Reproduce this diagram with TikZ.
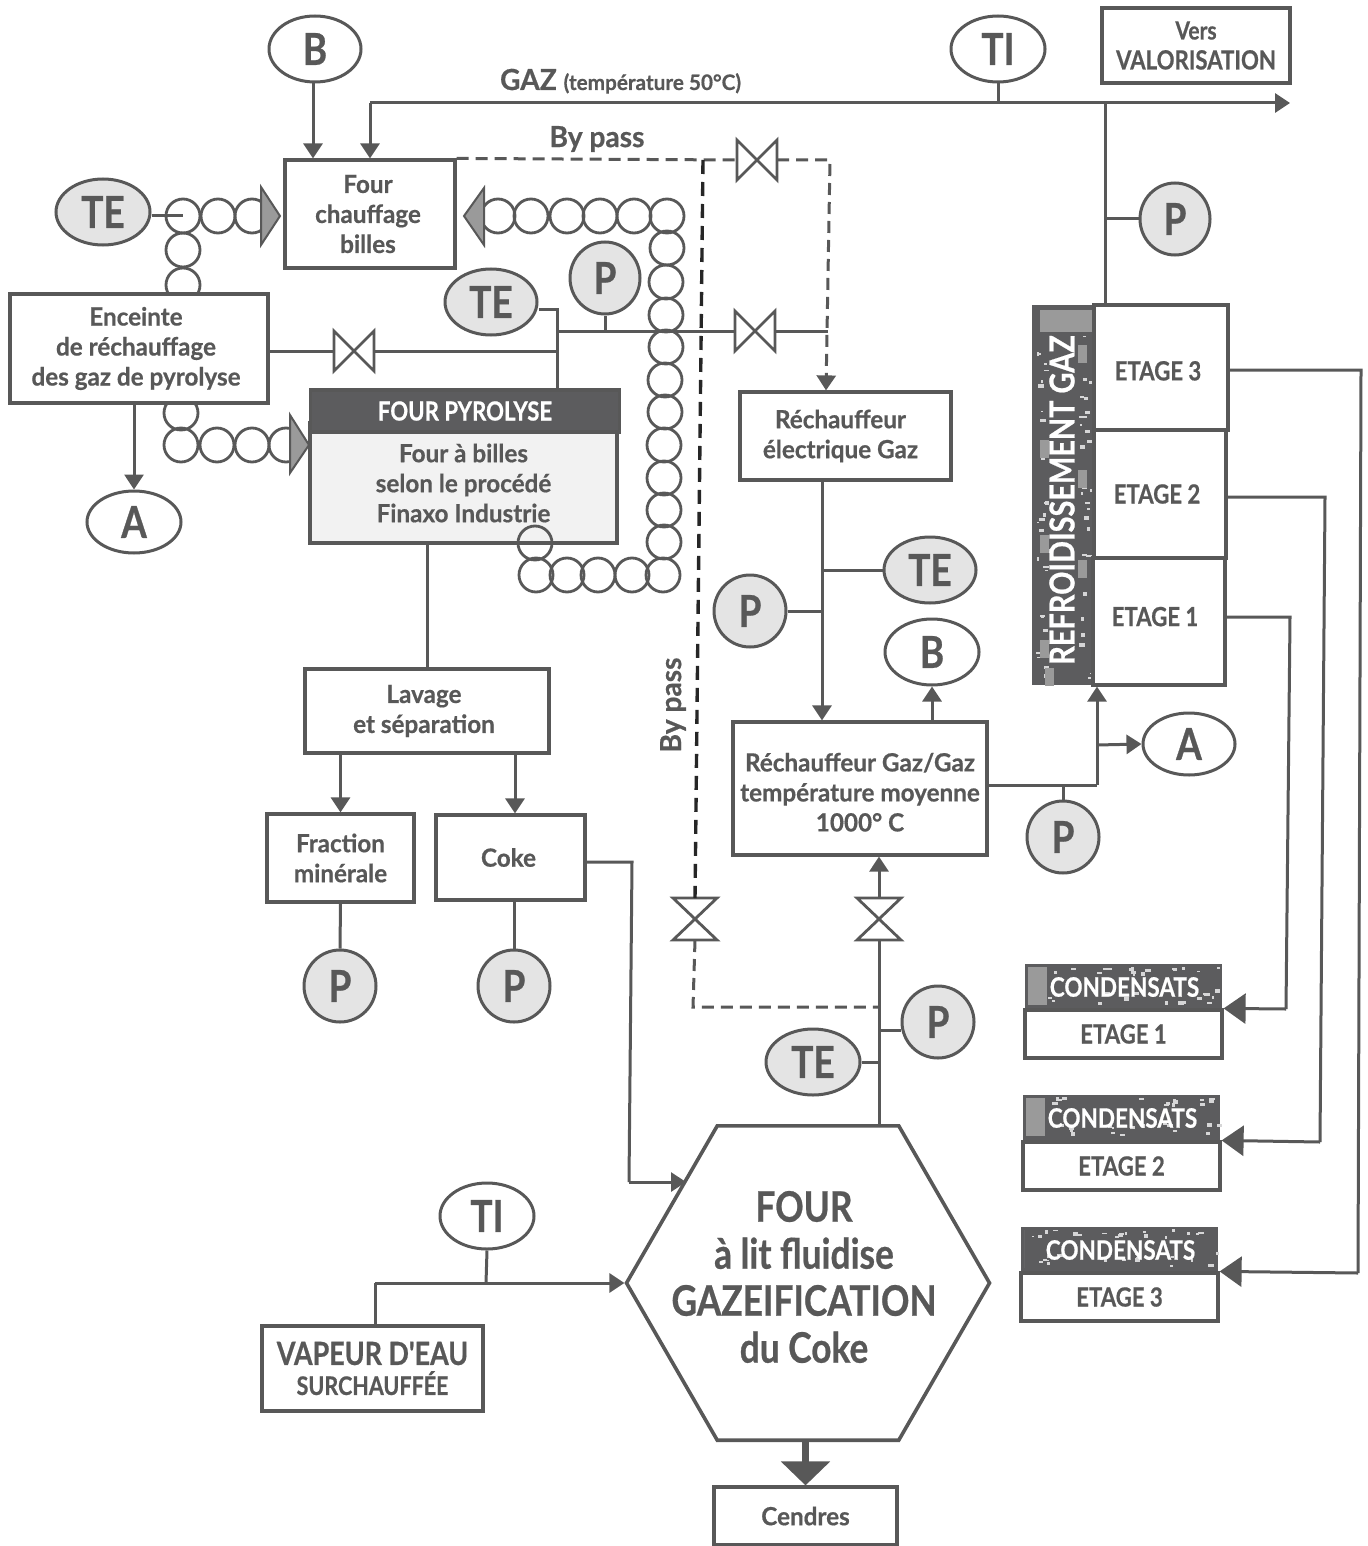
\documentclass[tikz,border=0pt]{standalone}
\usepackage{fontspec}
\setmainfont[FakeStretch=0.97,BoldFeatures={FakeBold=0.6}]{Lato}
\newfontfamily\capsfont[FakeStretch=0.84,BoldFeatures={FakeBold=0.6}]{Lato}
\usetikzlibrary{arrows.meta,shapes.geometric}
\definecolor{inkgray}{HTML}{585858}
\definecolor{bandgray}{HTML}{5c5c5e}
\definecolor{blotgray}{HTML}{9a9a9a}
\definecolor{instrgray}{HTML}{e4e4e4}
\tikzset{
  pipe/.style={draw=inkgray, line width=1.5pt},
  bypass/.style={draw=inkgray, line width=1.5pt, dash pattern=on 6pt off 3.5pt},
  blackpass/.style={draw=black!85, line width=1.7pt, dash pattern=on 7pt off 4pt},
  arrowed/.style={-{Triangle[length=7.5pt,width=9.5pt]}},
  bigarrowed/.style={-{Triangle[length=11pt,width=15pt]}},
  procbox/.style={draw=inkgray, line width=1.6pt, fill=white, inner sep=0pt, align=center, text=inkgray,
    font=\bfseries\fontsize{12.5}{15}\selectfont},
  capsbox/.style={procbox, font=\capsfont\bfseries\fontsize{13.2}{15}\selectfont},
  instr/.style={ellipse, draw=inkgray, line width=1.5pt, fill=instrgray, inner sep=0pt, text=inkgray,
    font=\capsfont\bfseries\fontsize{22}{24}\selectfont},
  relay/.style={instr, fill=white},
  bead/.style={draw=inkgray, line width=1.4pt},
  beadtip/.style={draw=inkgray, line width=1pt, fill=blotgray},
  lbl/.style={text=inkgray, align=center, font=\bfseries\fontsize{14.5}{16}\selectfont},
  whitelbl/.style={text=white, font=\capsfont\bfseries\fontsize{13.4}{16}\selectfont},
  valveh/.style={minimum width=20pt, minimum height=20pt, inner sep=0pt, outer sep=0pt},
  valvev/.style={minimum width=22pt, minimum height=21pt, inner sep=0pt, outer sep=0pt},
}
\newcommand{\speckle}[5]{%
  \foreach \i in {1,...,#5} {
    \pgfmathsetmacro{\sx}{#1+rnd*(#3-#1)}
    \pgfmathsetmacro{\sy}{#2+rnd*(#4-#2)}
    \fill[white!75!bandgray] (\sx,\sy) rectangle ++(2+4*rnd,1+3*rnd);
  }}
\begin{document}
\begin{tikzpicture}[x=0.5pt, y=-0.5pt]
  \useasboundingbox (0,0) rectangle (1367,1546);
  \pgfmathsetseed{4711}

  % Chains of balls
  \foreach \bx/\by in {183/216, 218/216, 252/216, 183/250, 183/285, 181/413, 181/445, 217/445, 252/445, 286/445}
    \draw[bead] (\bx,\by) circle[radius=17];
  \foreach \bx/\by in {498/216, 531/216, 567/216, 600/216, 634/216, 667/216, 667/248, 666/282, 666/315,
      666/347, 665/380, 665/412, 664/445, 664/478, 664/510, 664/542, 663/575, 632/575, 598/575, 567/575, 536/575}
    \draw[bead] (\bx,\by) circle[radius=17];
  \draw[beadtip] (261,187) -- (280,216) -- (261,245) -- cycle;
  \draw[beadtip] (290,415) -- (309,445) -- (290,473) -- cycle;
  \draw[beadtip] (484,188) -- (464,216) -- (484,245) -- cycle;

  % Upper left boxes
  \node[relay, minimum width=46pt, minimum height=33pt] (bhaut) at (315,49) {B};
  \node[procbox, minimum width=85pt, minimum height=54pt] (chauffe) at (370,214) {\hspace*{-2pt}Four\\\hspace*{-2pt}chauffage\\\hspace*{-2pt}billes};
  \node[instr, minimum width=47pt, minimum height=33pt] (techauffe) at (103,212) {TE};
  \node[procbox, minimum width=129pt, minimum height=54.5pt] (enceinte) at (139,348.5) {\hspace*{-3pt}Enceinte\\\hspace*{-3pt}de réchauffage\\\hspace*{-3pt}des gaz de pyrolyse};
  \node[relay, minimum width=47pt, minimum height=31pt] (agauche) at (134,522) {A};

  % Four pyrolyse
  \node[procbox, fill=black!5, minimum width=153.5pt, minimum height=60pt] (pyrolyse) at (463.5,483) {Four à billes\\selon le procédé\\Finaxo Industrie};
  \node[capsbox, fill=bandgray, text=white, minimum width=154.5pt, minimum height=21pt] (pyrotitre) at (465,411) {FOUR PYROLYSE};
  \draw[bead] (535,543) circle[radius=17];
  \node[instr, minimum width=46pt, minimum height=33pt] (tepyro) at (491,302) {TE};
  \node[instr, minimum width=35pt, minimum height=36pt] (ppyro) at (605,278) {P};

  % Lavage
  \node[procbox, minimum width=122pt, minimum height=42pt] (lavage) at (427,711) {\hspace*{-3pt}Lavage\\\hspace*{-3pt}et séparation};
  \node[procbox, minimum width=73.5pt, minimum height=44pt] (fraction) at (340.5,858) {Fraction\\minérale};
  \node[procbox, minimum width=74.5pt, minimum height=42.5pt] (coke) at (510.5,857.5) {\hspace*{-2pt}Coke};
  \node[instr, minimum width=36pt, minimum height=36pt] (pfraction) at (340,986) {P};
  \node[instr, minimum width=36pt, minimum height=36pt] (pcoke) at (514,986) {P};

  % Rechauffeurs
  \node[procbox, minimum width=105.5pt, minimum height=44pt] (electrique) at (845.5,436) {\hspace*{-5pt}Réchauffeur\\\hspace*{-5pt}électrique Gaz};
  \node[procbox, minimum width=127pt, minimum height=66.5pt] (gazgaz) at (860,788.5) {\rule{0pt}{13pt}Réchauffeur Gaz/Gaz\\température moyenne\\1000° C};
  \node[instr, minimum width=46pt, minimum height=33pt] (tegaz) at (930,570) {TE};
  \node[instr, minimum width=36pt, minimum height=36pt] (pgaz) at (750,611) {P};
  \node[relay, minimum width=47pt, minimum height=33pt] (bdroite) at (932,652) {B};
  \node[relay, minimum width=46pt, minimum height=31pt] (adroite) at (1189,744) {A};
  \node[instr, minimum width=36pt, minimum height=36pt] (psortie) at (1063,837) {P};

  % Top right
  \node[relay, minimum width=47pt, minimum height=33pt] (tihaut) at (998,49) {TI};
  \node[capsbox, minimum width=94pt, minimum height=37.5pt] (vers) at (1196,45.5) {{\bfseries\fontsize{12.5}{15}\selectfont Vers}\\VALORISATION};
  \node[instr, minimum width=35pt, minimum height=36pt] (pvers) at (1175,219) {P};
  \node[lbl, anchor=base west] (gazlabel) at (493,90) {GAZ {\fontsize{10.7}{12}\selectfont (température 50°C)}};
  \node[lbl] (bypassa) at (597,139) {By pass};
  \node[lbl, rotate=90] (bypassb) at (673,705) {By pass};

  % Refroidissement
  \fill[bandgray] (1032,305) rectangle (1094,685);
  \speckle{1036}{335}{1046}{680}{30}
  \speckle{1078}{335}{1090}{680}{30}
  \fill[blotgray] (1040,310) rectangle (1092,332);
  \foreach \bx/\by in {1040/440, 1078/345, 1078/470, 1040/535, 1078/560, 1040/640, 1045/668}
    \fill[blotgray] (\bx,\by) rectangle ++(9,18);
  \node[whitelbl, rotate=90, font=\capsfont\bfseries\fontsize{17.2}{20}\selectfont] (refroid) at (1062,500) {REFROIDISSEMENT GAZ};
  \node[capsbox, minimum width=67pt, minimum height=62.5pt] (etagec) at (1161,367.5) {\rule{0pt}{13pt}\hspace*{-3pt}ETAGE 3};
  \node[capsbox, minimum width=66pt, minimum height=64pt] (etageb) at (1160,494) {\hspace*{-3pt}ETAGE 2};
  \node[capsbox, minimum width=66pt, minimum height=63.5pt] (etagea) at (1159,621.5) {\rule[-5pt]{0pt}{0pt}\hspace*{-4pt}ETAGE 1};

  % Condensats
  \foreach \cname/\cx/\cy/\cz/\cn/\cb in {conda/1025/964/1010/1/19, condb/1023/1095/1142/2/19, condc/1021/1227/1273/3/0} {
    \pgfmathsetmacro{\cmid}{\cx+98.5}
    \pgfmathsetmacro{\cright}{\cx+197}
    \fill[bandgray] (\cx,\cy) rectangle (\cright,\cz);
    \speckle{\cx+4}{\cy+2}{\cright-8}{\cy+5}{18}
    \speckle{\cx+4}{\cz-8}{\cright-8}{\cz-5}{18}
    \fill[blotgray] (\cx+3,\cy+3) rectangle ++(\cb,38);
    \node[whitelbl] (\cname titre) at (\cmid+1,\cy+23) {CONDENSATS};
    \node[capsbox, minimum width=98.5pt, minimum height=24pt] (\cname) at (\cmid,\cz+24) {ETAGE \cn};
  }

  % Gazeification
  \node[regular polygon, regular polygon sides=6, minimum size=181.5pt, draw=inkgray, line width=1.8pt, fill=white,
    inner sep=0pt] (gazeif) at (808,1283) {};
  \node[align=center, text=inkgray, font=\capsfont\bfseries\fontsize{21}{23.5}\selectfont] (gazeiftexte) at (804,1277)
    {FOUR\\à lit fluidise\\GAZEIFICATION\\du Coke};
  \node[procbox, minimum width=91.5pt, minimum height=29pt] (cendres) at (805.5,1516) {Cendres};
  \node[capsbox, minimum width=110.5pt, minimum height=42.5pt] (vapeur) at (372.5,1368.5)
    {{\fontsize{16}{16}\selectfont VAPEUR D'EAU}\\{\fontsize{12.8}{15}\selectfont SURCHAUFFÉE}};
  \node[relay, minimum width=47pt, minimum height=33pt] (tibas) at (487,1216) {TI};
  \node[instr, minimum width=36pt, minimum height=36pt] (pgazeif) at (938,1022) {P};
  \node[instr, minimum width=47pt, minimum height=33pt] (tegazeif) at (813,1062) {TE};

  % Valves
  \node[valveh] (vbypass) at (757,160) {};
  \node[valveh] (vpyro) at (755,331) {};
  \node[valveh] (venceinte) at (354,351) {};
  \node[valvev] (vnoire) at (695,919) {};
  \node[valvev] (vgaz) at (879,919) {};
  \foreach \vname in {vbypass, vpyro, venceinte}
    \draw[pipe, line width=1.4pt] (\vname.north west) -- (\vname.south east) -- (\vname.north east) -- (\vname.south west) -- cycle;
  \foreach \vname in {vnoire, vgaz}
    \draw[pipe, line width=1.4pt] (\vname.north west) -- (\vname.south east) -- (\vname.south west) -- (\vname.north east) -- cycle;

  % Junctions
  \coordinate (gazfin) at (1290,103);
  \coordinate (gazcoin) at (370,103);
  \coordinate (jonctionti) at (998,103);
  \coordinate (jonctionvers) at (1105,103);
  \coordinate (jonctionp) at (1105,219);
  \coordinate (jonctionte) at (557,309);
  \coordinate (jonctionhaut) at (557,331);
  \coordinate (jonctionbas) at (557,351);
  \coordinate (coinbypass) at (830,160);
  \coordinate (coinpyro) at (828,331);
  \coordinate (cuitbead) at (183,216);
  \coordinate (passenoire) at (703,160);
  \coordinate (coinnoir) at (693,1007);
  \coordinate (passegaz) at (878,1007);
  \coordinate (jonctionpg) at (878,1030);
  \coordinate (jonctiontg) at (878,1062);
  \coordinate (jonctiongrand) at (1097,785);
  \coordinate (jonctiona) at (1097,745);
  \coordinate (jonctionps) at (1063,785);
  \coordinate (cokeangle) at (632,862);
  \coordinate (cokecoin) at (629,1182);
  \coordinate (cokefin) at (686,1182);
  \coordinate (vapeurcoin) at (375,1283);
  \coordinate (tijonction) at (486,1283);

  % Gas line
  \path[pipe, draw, arrowed] (gazcoin) -- (gazfin);
  \draw[pipe, arrowed] (gazcoin) -- (gazcoin |- chauffe.north);
  \draw[pipe] (tihaut.south) -- (jonctionti);
  \draw[pipe] (etagec.north -| jonctionvers) -- (jonctionvers);
  \draw[pipe] (pvers.west) -- (jonctionp);
  \draw[pipe, arrowed] (bhaut.south -| 313,0) -- (chauffe.north -| 313,0);

  % Bypass lines
  \draw[bypass] (chauffe.north east) -- (vbypass.west);
  \draw[bypass, arrowed] (vbypass.east) -- (coinbypass) -- (electrique.north -| 826,0);
  \draw[blackpass] (passenoire) -- (vnoire.north);
  \draw[bypass] (vnoire.south) -- (coinnoir) -- (passegaz);

  % Pyrolysis lines
  \draw[pipe] (techauffe.east |- cuitbead) -- (cuitbead);
  \draw[pipe] (tepyro.east |- jonctionte) -- (jonctionte) -- (pyrotitre.north -| jonctionte);
  \draw[pipe] (ppyro.south) -- (ppyro.south |- jonctionhaut);
  \draw[pipe] (jonctionhaut) -- (vpyro.west);
  \draw[pipe] (vpyro.east) -- (coinpyro);
  \draw[pipe] (enceinte.east |- jonctionbas) -- (venceinte.west);
  \draw[pipe] (venceinte.east) -- (jonctionbas);
  \draw[pipe, arrowed] (enceinte.south -| agauche) -- (agauche.north);
  \draw[pipe] (pyrolyse.south -| lavage) -- (lavage.north);
  \draw[pipe, arrowed] (lavage.south -| fraction) -- (fraction.north);
  \draw[pipe, arrowed] (lavage.south -| 515,0) -- (coke.north -| 515,0);
  \draw[pipe] (fraction.south) -- (pfraction.north);
  \draw[pipe] (coke.south -| pcoke) -- (pcoke.north);
  \draw[pipe] (coke.east |- cokeangle) -- (cokeangle) -- (cokecoin);
  \draw[pipe, arrowed] (cokecoin) -- (cokefin);

  % Gas heaters
  \draw[pipe, arrowed] (electrique.south -| 822,0) -- (gazgaz.north -| 822,0);
  \draw[pipe] (tegaz.west) -- (tegaz.west -| 822,0);
  \draw[pipe] (pgaz.east) -- (pgaz.east -| 822,0);
  \draw[pipe, arrowed] (gazgaz.north -| bdroite) -- (bdroite.south);
  \draw[pipe] (gazgaz.east |- jonctiongrand) -- (jonctiongrand);
  \draw[pipe, arrowed] (jonctiongrand) -- (etagea.south -| jonctiongrand);
  \draw[pipe, arrowed] (jonctiona) -- (adroite.west);
  \draw[pipe] (psortie.north) -- (jonctionps);
  \draw[pipe, arrowed] (vgaz.north) -- (gazgaz.south -| vgaz);
  \draw[pipe] (vgaz.south) -- (gazeif.north -| vgaz.south);
  \draw[pipe] (pgazeif.west |- jonctionpg) -- (jonctionpg);
  \draw[pipe] (tegazeif.east) -- (jonctiontg);

  % Steam and ash
  \draw[pipe] (vapeur.north -| vapeurcoin) -- (vapeurcoin);
  \draw[pipe, arrowed] (vapeurcoin) -- (gazeif.west);
  \draw[pipe] (tibas.south) -- (tijonction);
  \draw[draw=inkgray, line width=3.5pt, -{Triangle[length=12pt,width=24pt]}] (gazeif.south -| cendres) -- (cendres.north);

  % Condensates
  \draw[pipe] (etagea.east |- 0,617) -- (1290,617) -- (1286,1009);
  \draw[pipe, bigarrowed] (1286,1009) -- (conda.north east);
  \draw[pipe] (etageb.east |- 0,497) -- (1325,497) -- (1320,1142);
  \draw[pipe, bigarrowed] (1320,1142) -- (condb.north east);
  \draw[pipe] (etagec.east |- 0,370) -- (1361,370) -- (1358,1273);
  \draw[pipe, bigarrowed] (1358,1273) -- (condc.north east);
\end{tikzpicture}
\end{document}
